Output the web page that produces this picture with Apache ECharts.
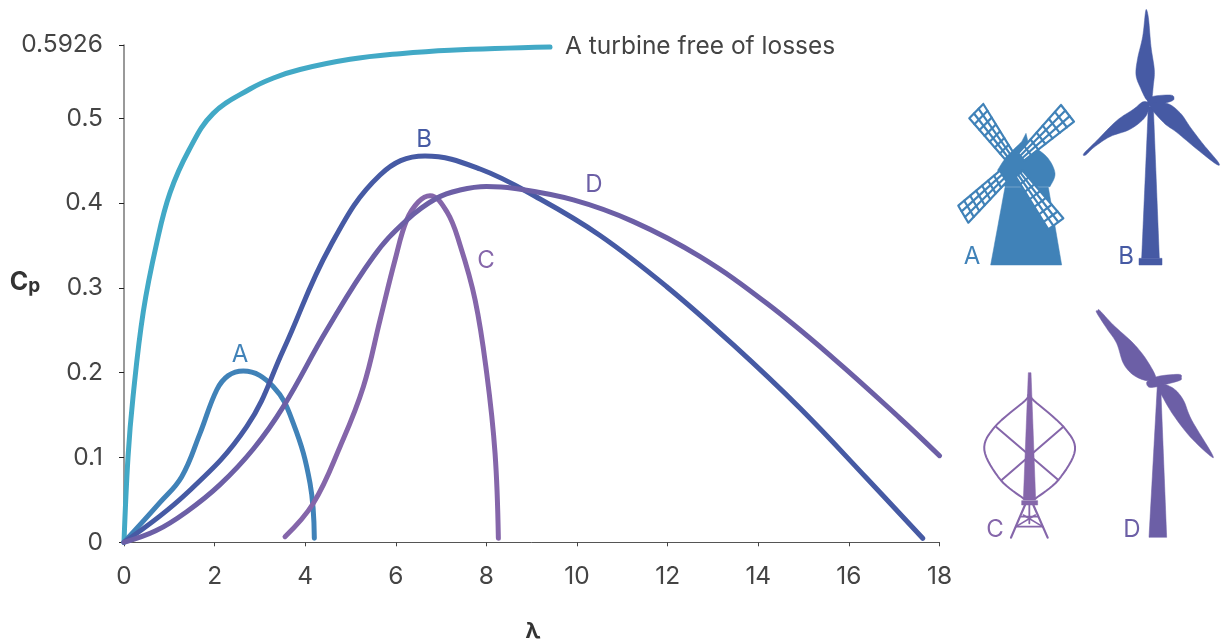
<!DOCTYPE html>
<html>
<head>
<meta charset="utf-8">
<style>html,body{margin:0;padding:0;background:#fff}#chart{width:1230px;height:641px}</style>
<script src="https://cdn.jsdelivr.net/npm/echarts@6/dist/echarts.min.js"></script>
</head>
<body>
<div id="chart"></div>
<script>
// values as [lambda, Cp]
var idealCurve = [[0,0],[0.088,0.1],[0.199,0.1713],[0.426,0.272],[0.721,0.3526],[1.015,0.412],[1.435,0.4626],[1.965,0.5055],[2.781,0.5345],[3.3,0.5475],[3.885,0.5575],[4.989,0.5695],[6.093,0.5762],[7.196,0.5803],[9.404,0.5841]];
var curveA = [[0,0],[0.795,0.047],[1.274,0.0774],[1.678,0.1285],[2.046,0.1796],[2.3,0.1965],[2.634,0.202],[3.296,0.1835],[3.737,0.1403],[4.106,0.0696],[4.201,0.0047]];
var curveB = [[0,0],[1.384,0.0578],[2.708,0.1363],[3.517,0.2268],[4.547,0.3486],[5.651,0.4331],[6.644,0.4555],[7.859,0.4402],[9.183,0.4048],[10.508,0.3618],[11.98,0.3014],[13.45,0.2327],[14.923,0.158],[16.394,0.0755],[17.63,0.0047]];
var curveC = [[3.554,0.0066],[4.179,0.046],[4.768,0.1127],[5.283,0.1835],[5.651,0.2621],[5.982,0.3329],[6.24,0.38],[6.5,0.4015],[6.755,0.4087],[7.124,0.39],[7.417,0.3506],[7.75,0.2857],[8.006,0.1993],[8.19,0.105],[8.263,0.0047]];
var curveD = [[0,0],[0.7,0.0135],[1.384,0.0361],[2.119,0.068],[2.854,0.11],[3.517,0.16],[4.475,0.2503],[5.503,0.3368],[6.24,0.38],[6.9,0.4057],[7.417,0.4154],[8.0,0.4195],[8.594,0.4175],[9.918,0.4037],[11.243,0.3781],[12.715,0.3368],[14.187,0.2818],[15.658,0.217],[17.13,0.1462],[18,0.1021]];

// the top tick sits a little under its true height in the original
var yTickValues = [0, 0.1, 0.2, 0.3, 0.4, 0.5, 0.5864];
var yTickLabels = ['0', '0.1', '0.2', '0.3', '0.4', '0.5', '0.5926'];
var xTickValues = [0, 2, 4, 6, 8, 10, 12, 14, 16, 18];

var colIdeal = '#42a9c6', colA = '#4082b8', colB = '#465aa4', colC = '#8566aa', colD = '#6c5fa6';
var textCol = '#444';
var fontName = 'Inter';

function line(name, data, color) {
    return {
        name: name, type: 'line', data: data, smooth: 0.4, showSymbol: false, silent: true,
        lineStyle: {color: color, width: 5, cap: 'round', join: 'round'}
    };
}

function mapper(ox, oy) {
    return function (pts) {
        return pts.map(function (p) { return [ox + p[0] / 3, oy + p[1] / 3]; });
    };
}
// catmull-rom through the traced points
function soft(pts, closed) {
    var out = [], n = pts.length, last = closed ? n : n - 1;
    function at(i) { return closed ? pts[(i + n) % n] : pts[Math.max(0, Math.min(n - 1, i))]; }
    for (var i = 0; i < last; i++) {
        var a = at(i - 1), b = at(i), c = at(i + 1), d = at(i + 2);
        for (var k = 0; k < 8; k++) {
            var t = k / 8, t2 = t * t, t3 = t2 * t;
            out.push([0, 1].map(function (j) {
                return 0.5 * (2 * b[j] + (c[j] - a[j]) * t + (2 * a[j] - 5 * b[j] + 4 * c[j] - d[j]) * t2 + (3 * b[j] - a[j] - 3 * c[j] + d[j]) * t3);
            }));
        }
    }
    if (!closed) out.push(pts[n - 1]);
    return out;
}
function blob(pts, color) {
    return {type: 'polygon', silent: true, shape: {points: pts}, style: {fill: color, stroke: color, lineWidth: 0.5, lineJoin: 'round'}};
}
function wire(pts, color, w) {
    return {type: 'polyline', silent: true, shape: {points: pts}, style: {fill: null, stroke: color, lineWidth: w, lineCap: 'round', lineJoin: 'round'}};
}
function label(txt, x, y, color) {
    return {type: 'text', silent: true, x: x, y: y, style: {text: txt, fill: color, font: '24px ' + fontName, textAlign: 'center', textVerticalAlign: 'middle'}};
}
// lattice sail: white plate, outline, 2 long bars, cross bars
function sail(a, b, c, d, rows) {
    var out = [blob([a, b, c, d], '#fff')];
    function mix(p, q, t) { return [p[0] + (q[0] - p[0]) * t, p[1] + (q[1] - p[1]) * t]; }
    out.push(wire([a, b, c, d, a], colA, 2.2));
    [1 / 3, 2 / 3].forEach(function (t) { out.push(wire([mix(a, b, t), mix(d, c, t)], colA, 2.2)); });
    for (var i = 1; i < rows; i++) {
        out.push(wire([mix(a, d, i / rows), mix(b, c, i / rows)], colA, 2.2));
    }
    return out;
}

var m1 = mapper(950, 0), m2 = mapper(970, 300);
var icons = [];
// windmill
icons.push(blob(m1([[122,795],[335,795],[295,562],[165,562]]), colA));
icons.push(blob(m1([[165,560],[148,535],[143,510]]).concat(soft(m1([[143,510],[170,470],[215,425]])), m1([[228,400],[235,430]]), soft(m1([[235,430],[290,470],[315,520],[300,560]]))), colA));
icons = icons.concat(sail([983.3,104],[969.3,118.3],[1005,159.3],[1012.7,151.7], 7));
icons = icons.concat(sail([1061,105],[1074,121.7],[1024,160.7],[1018.3,153.3], 7));
icons = icons.concat(sail([958.3,205.7],[968.3,222.7],[1006.7,181.7],[1000,170.7], 7));
icons = icons.concat(sail([1063.3,218.3],[1048.3,229.3],[1015.7,176.7],[1022.7,170.7], 7));
// turbine B
icons.push(blob(m1([[575,775],[628,775],[610,320],[595,320]]), colB));
icons.push(blob(m1([[567,775],[636,775],[636,795],[567,795]]), colB));
icons.push(blob(soft(m1([[590,30],[596,60],[603,140],[613,210],[610,255],[604,300],[590,300],[572,265],[558,225],[563,175],[578,110],[586,40]]), true), colB));
icons.push(blob(soft(m1([[600,292],[660,285],[672,295],[660,305],[600,318]]), true), colB));
icons.push(blob(soft(m1([[402,460],[440,422],[500,362],[550,328],[580,305],[598,315],[585,352],[540,388],[480,410],[432,442],[407,465]]), true), colB));
icons.push(blob(soft(m1([[600,315],[650,310],[690,338],[722,383],[760,433],[805,487],[798,492],[740,447],[680,397],[640,367]]), true), colB));
// turbine C
icons.push(blob(m2([[175,218],[183,218],[197,600],[160,600]]), colC));
icons.push(blob(m2([[155,602],[203,602],[203,615],[155,615]]), colC));
icons.push(wire(soft(m2([[180,285],[192,302],[280,380],[315,450],[265,540],[197,595]])), colC, 2));
icons.push(wire(soft(m2([[175,285],[165,302],[75,380],[43,450],[92,540],[160,595]])), colC, 2));
icons.push(wire(m2([[78,380],[265,540]]), colC, 2));
icons.push(wire(m2([[280,380],[95,540]]), colC, 2));
icons.push(wire(m2([[165,615],[123,713]]), colC, 2.2));
icons.push(wire(m2([[190,615],[233,713]]), colC, 2.2));
icons.push(wire(m2([[155,650],[203,650]]), colC, 1.8));
icons.push(wire(m2([[140,680],[218,680]]), colC, 1.8));
icons.push(wire(m2([[178,615],[178,670]]), colC, 1.8));
icons.push(wire(m2([[160,645],[218,680]]), colC, 1.6));
icons.push(wire(m2([[196,645],[138,680]]), colC, 1.6));
// turbine D
icons.push(blob(m2([[537,712],[590,712],[572,255],[562,255]]), colD));
icons.push(blob(soft(m2([[383,32],[390,32],[430,75],[490,130],[530,180],[558,235],[530,242],[490,225],[460,190],[440,130],[410,85],[380,38]]), true), colD));
icons.push(blob(soft(m2([[555,232],[625,223],[634,233],[625,243],[555,258]]), true), colD));
icons.push(blob(soft(m2([[570,250],[610,265],[640,300],[665,360],[725,460],[720,467],[660,410],[610,345],[580,295],[565,265]]), true), colD));
icons.push(blob(soft(m2([[532,244],[570,238],[572,256],[538,262]]), true), colD));

var texts = [
    label('A', 240, 355, colA), label('B', 424, 140, colB), label('C', 486, 261, colC), label('D', 594, 185, colD),
    label('A', 972, 257, colA), label('B', 1126, 257, colB), label('C', 995, 530, colC), label('D', 1132, 530, colD),
    {type: 'text', silent: true, x: 533, y: 631, style: {text: 'λ', fill: '#333', font: 'bold 22px ' + fontName, textAlign: 'center', textVerticalAlign: 'middle'}},
    {type: 'text', silent: true, x: 25, y: 282, style: {
        text: '{c|C}{p|p}', textAlign: 'center', textVerticalAlign: 'middle',
        rich: {c: {fontFamily: fontName, fontWeight: 'bold', fontSize: 25, fill: '#333'}, p: {fontFamily: fontName, fontWeight: 'bold', fontSize: 19, fill: '#333', padding: [8, 0, 0, 0]}}
    }}
];

var chart = echarts.init(document.getElementById('chart'), null, {renderer: 'canvas'});
chart.setOption({
    animation: false,
    backgroundColor: '#fff',
    grid: {left: 124, right: 290.5, top: 45, bottom: 98.7},
    xAxis: {
        type: 'value', min: 0, max: 18, interval: 2, splitLine: {show: false},
        axisLine: {show: true, lineStyle: {color: '#555', width: 1}},
        axisTick: {show: true, length: 4, inside: false, lineStyle: {color: '#444', width: 1}, customValues: xTickValues},
        axisLabel: {color: textCol, fontFamily: fontName, fontSize: 24.5, margin: 22, customValues: xTickValues}
    },
    yAxis: {
        type: 'value', min: 0, max: 0.5864, splitLine: {show: false},
        axisLine: {show: true, onZero: false, lineStyle: {color: '#777', width: 1.5}},
        axisTick: {show: true, length: 5, lineStyle: {color: '#222', width: 1}, customValues: yTickValues},
        axisLabel: {
            color: textCol, fontFamily: fontName, fontSize: 24.5, margin: 21, customValues: yTickValues,
            formatter: function (v) {
                var i = yTickValues.indexOf(v);
                return i < 0 ? '' : yTickLabels[i];
            }
        }
    },
    series: [
        Object.assign(line('A turbine free of losses', idealCurve, colIdeal), {
            endLabel: {show: true, formatter: 'A turbine free of losses', color: textCol, fontFamily: fontName, fontSize: 24.5, distance: 15}
        }),
        line('A', curveA, colA),
        line('B', curveB, colB),
        line('C', curveC, colC),
        line('D', curveD, colD)
    ],
    graphic: {elements: icons.concat(texts)}
});
</script>
</body>
</html>
